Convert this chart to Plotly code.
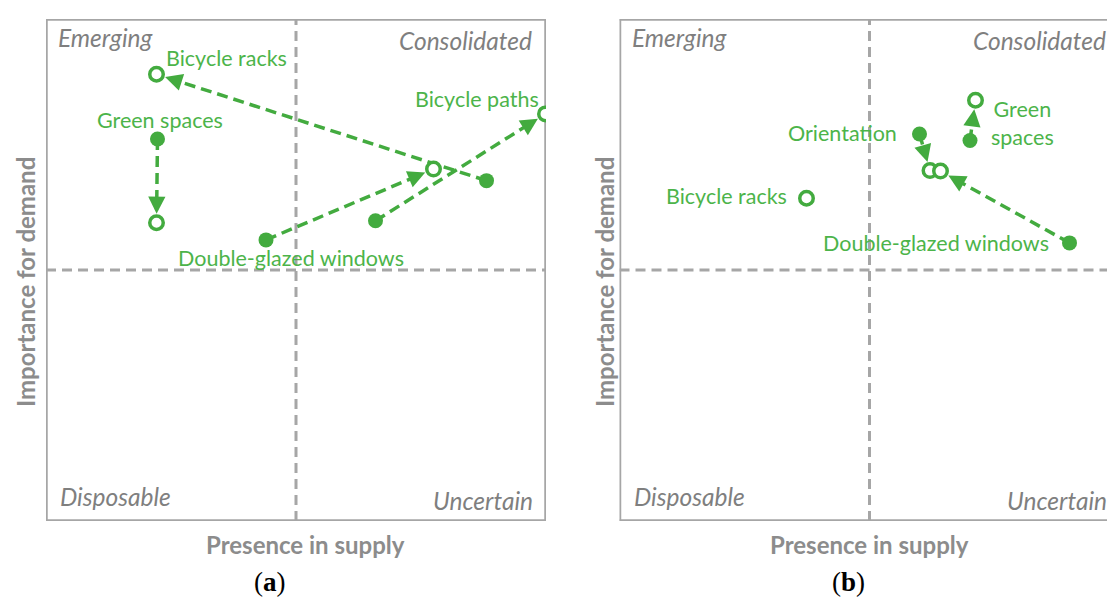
import math
import plotly.graph_objects as go

# ---- data: (start, end) positions on a 0-10 scale for each attribute ----
# panel (a)
a_names = ["Bicycle racks", "Green spaces", "Bicycle paths", "Double-glazed windows"]
a_x0 = [8.81, 2.23, 6.59, 4.40]
a_y0 = [6.78, 7.61, 5.98, 5.60]
a_x1 = [2.21, 2.21, 9.99, 7.75]
a_y1 = [8.90, 5.94, 8.11, 7.01]

# panel (b)  (Bicycle racks has only a final position)
b_names = ["Bicycle racks", "Orientation", "Double-glazed windows", "Green<br>spaces"]
b_x0 = [None, 6.00, 9.00, 7.01]
b_y0 = [None, 7.71, 5.54, 7.58]
b_x1 = [3.74, 6.21, 6.42, 7.12]
b_y1 = [6.43, 6.98, 6.97, 8.38]

quadrants = ["Emerging", "Consolidated", "Disposable", "Uncertain"]
x_title = "Presence in supply"
y_title = "Importance for demand"
captions = ["(<b>a</b>)", "(<b>b</b>)"]

# ---- styling ----
W, H = 1107, 598
GREEN = "#43ab3f"
TEXT_GREEN = "#4cb44a"
GRAY = "#a6a6a6"
LABEL_GRAY = "#7f7f7f"
FONT = "Lato"

PX_PER_UNIT_X = 50.0
PX_PER_UNIT_Y = 50.2
A_LEFT, B_LEFT = 46.0, 619.5
TOP, BOTTOM = 19.0, 521.0

a_dom_x = [A_LEFT / W, (A_LEFT + 10 * PX_PER_UNIT_X) / W]
b_dom_x = [B_LEFT / W, 1.0]
b_range_x = [0, (W - B_LEFT) / PX_PER_UNIT_X]
dom_y = [1 - BOTTOM / H, 1 - TOP / H]

fig = go.Figure()

axis_common = dict(showgrid=False, zeroline=False, showticklabels=False,
                   ticks="", showline=False, fixedrange=True)
fig.update_layout(
    width=W, height=H, margin=dict(l=0, r=0, t=0, b=0),
    paper_bgcolor="white", plot_bgcolor="white", showlegend=False,
    xaxis=dict(domain=a_dom_x, range=[0, 10], **axis_common),
    yaxis=dict(domain=dom_y, range=[0, 10], **axis_common),
    xaxis2=dict(domain=b_dom_x, range=b_range_x, anchor="y2", **axis_common),
    yaxis2=dict(domain=dom_y, range=[0, 10], anchor="x2", **axis_common),
)

shapes = []
annotations = []


def panel_frame(xref, yref):
    # outer box (left, top, bottom, right) and the two dashed quadrant dividers
    box = dict(type="line", xref=xref, yref=yref, line=dict(color=GRAY, width=3.5))
    for (x0, y0, x1, y1) in [(0, 0, 0, 10), (0, 10, 10, 10), (0, 0, 10, 0), (10, 0, 10, 10)]:
        shapes.append(dict(box, x0=x0, y0=y0, x1=x1, y1=y1, layer="below"))
    mid = dict(type="line", xref=xref, yref=yref, layer="below",
               line=dict(color=GRAY, width=3, dash="10px,6px"))
    shapes.append(dict(mid, x0=5, y0=0, x1=5, y1=10))
    shapes.append(dict(mid, x0=0, y0=5, x1=10, y1=5))


def quadrant_labels(xref, yref):
    q = dict(xref=xref, yref=yref, showarrow=False,
             font=dict(family=FONT, size=24.5, color=LABEL_GRAY), yanchor="middle")
    annotations.append(dict(q, text="<i>%s</i>" % quadrants[0], x=0.2, y=9.64, xanchor="left"))
    annotations.append(dict(q, text="<i>%s</i>" % quadrants[1], x=9.5, xshift=13,
                            y=9.58, xanchor="right"))
    annotations.append(dict(q, text="<i>%s</i>" % quadrants[2], x=0.24, y=0.48, xanchor="left"))
    annotations.append(dict(q, text="<i>%s</i>" % quadrants[3], x=9.5, xshift=14,
                            y=0.40, xanchor="right"))


STANDOFF = 9.0  # px from the open circle centre to the arrow tip
HEAD = 16.0


def add_move(xref, yref, xa, ya, x0, y0, x1, y1):
    # dashed path from start to just behind the arrow head, arrow head, both markers
    dxp = (x1 - x0) * PX_PER_UNIT_X
    dyp = (y1 - y0) * PX_PER_UNIT_Y
    L = math.hypot(dxp, dyp)
    ux, uy = dxp / L, dyp / L
    back = STANDOFF + HEAD - 2
    xe = x1 - ux * back / PX_PER_UNIT_X
    ye = y1 - uy * back / PX_PER_UNIT_Y
    fig.add_trace(go.Scatter(x=[x0, xe], y=[y0, ye], mode="lines", xaxis=xa, yaxis=ya,
                             line=dict(color=GREEN, width=3.5, dash="11px,6px"),
                             hoverinfo="skip"))
    tail = STANDOFF + HEAD + 1
    annotations.append(dict(xref=xref, yref=yref, x=x1, y=y1, text="",
                            showarrow=True, arrowhead=2, arrowsize=1.15, arrowwidth=3,
                            arrowcolor=GREEN, standoff=STANDOFF,
                            ax=-ux * tail, ay=uy * tail))
    fig.add_trace(go.Scatter(x=[x0], y=[y0], mode="markers", xaxis=xa, yaxis=ya,
                             marker=dict(size=15, color=GREEN), hoverinfo="skip"))


def add_end(xa, ya, x1, y1):
    fig.add_trace(go.Scatter(x=[x1], y=[y1], mode="markers", xaxis=xa, yaxis=ya,
                             marker=dict(size=13.5, color="white",
                                         line=dict(color=GREEN, width=3.5)),
                             hoverinfo="skip"))


lbl = dict(showarrow=False, font=dict(family=FONT, size=21.5, color=TEXT_GREEN),
           yanchor="middle")

# ---- panel (a) ----
panel_frame("x", "y")
quadrant_labels("x", "y")
for i in range(len(a_names)):
    add_move("x", "y", "x", "y", a_x0[i], a_y0[i], a_x1[i], a_y1[i])
for i in range(len(a_names)):
    add_end("x", "y", a_x1[i], a_y1[i])
a_label_anchor = [(a_x1[0], a_y1[0], 70, 16, "center"),
                  (a_x0[1], a_y0[1], 2, 19, "center"),
                  (a_x1[2], a_y1[2], -69, 15, "center"),
                  (a_x0[3], a_y0[3], 25, -18, "center")]
for name, (lx, ly, sx, sy, anc) in zip(a_names, a_label_anchor):
    annotations.append(dict(lbl, xref="x", yref="y", x=lx, y=ly, xshift=sx, yshift=sy,
                            text=name, xanchor=anc))

# ---- panel (b) ----
panel_frame("x2", "y2")
quadrant_labels("x2", "y2")
for i in range(len(b_names)):
    if b_x0[i] is not None:
        add_move("x2", "y2", "x2", "y2", b_x0[i], b_y0[i], b_x1[i], b_y1[i])
for i in range(len(b_names)):
    add_end("x2", "y2", b_x1[i], b_y1[i])
b_label_anchor = [(b_x1[0], b_y1[0], -18, 2, "right"),
                  (b_x0[1], b_y0[1], -21, 1, "right"),
                  (b_x0[2], b_y0[2], -19, 0, "right"),
                  (b_x0[3], b_y0[3], 52, 17, "center")]
for name, (lx, ly, sx, sy, anc) in zip(b_names, b_label_anchor):
    annotations.append(dict(lbl, xref="x2", yref="y2", x=lx, y=ly, xshift=sx, yshift=sy,
                            text=name, xanchor=anc))

# ---- axis titles and captions ----
title_font = dict(family=FONT, size=24, color="#8c8c8c")
for cx, ty_x, cap_x, cap in [(305, 25, 270, captions[0]), (870, 604, 848, captions[1])]:
    annotations.append(dict(xref="paper", yref="paper", x=cx / W, y=1 - 544 / H,
                            text="<b>%s</b>" % x_title, showarrow=False,
                            font=title_font, xanchor="center", yanchor="middle"))
    annotations.append(dict(xref="paper", yref="paper", x=ty_x / W, y=1 - 282 / H,
                            text="<b>%s</b>" % y_title, showarrow=False, textangle=-90,
                            font=title_font, xanchor="center", yanchor="middle"))
    annotations.append(dict(xref="paper", yref="paper", x=cap_x / W, y=1 - 582 / H,
                            text=cap, showarrow=False,
                            font=dict(family="Liberation Serif", size=27, color="black"),
                            xanchor="center", yanchor="middle"))

fig.update_layout(shapes=shapes, annotations=annotations)
fig.write_html("out.html")
